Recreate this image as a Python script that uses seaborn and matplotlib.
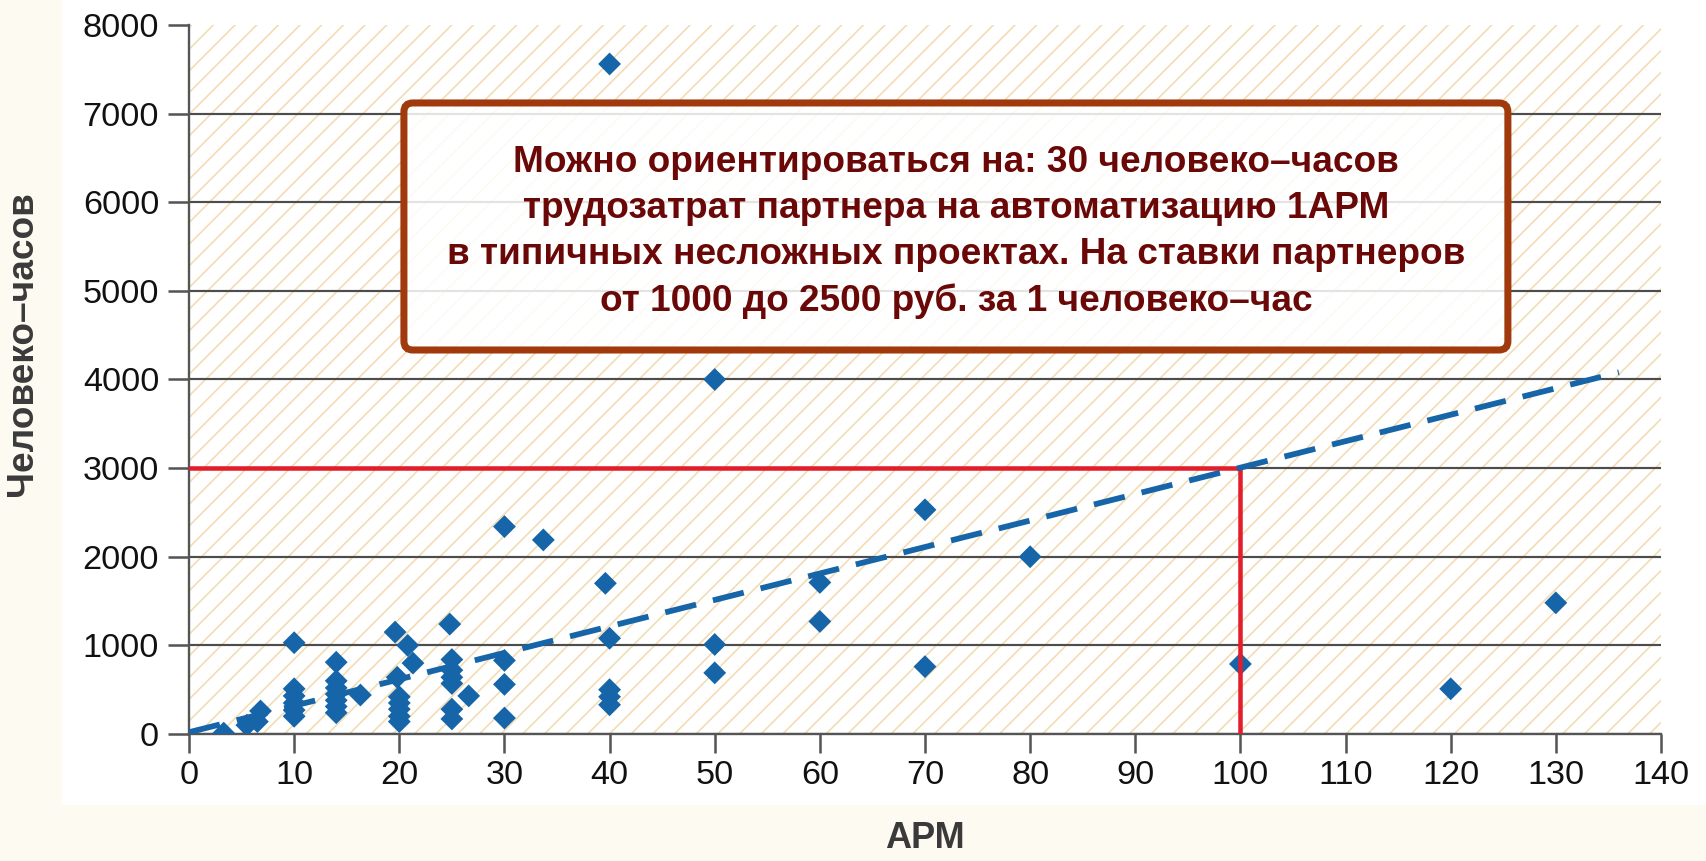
import matplotlib
matplotlib.use("Agg")
import matplotlib.pyplot as plt
from matplotlib.patches import Rectangle, FancyBboxPatch
import pandas as pd
import seaborn as sns

# данные: АРМ (число рабочих мест) и трудозатраты партнера, человеко-часов
apm = [3.3, 5.5, 6.5, 6.8,
       10, 10, 10, 10, 10, 10,
       14, 14, 14, 14, 14, 14, 14,
       16.3, 19.6, 20.8, 21.3, 19.8,
       20, 20, 20, 20, 20,
       24.8, 25, 25, 25, 25, 26.6, 25, 25,
       30, 30, 30, 30, 33.7,
       39.6, 40, 40, 40, 40, 40,
       50, 50, 50, 60, 60, 70, 70, 80, 100, 120, 130]
chasy = [10, 100, 140, 260,
         1030, 510, 430, 350, 270, 200,
         810, 600, 520, 450, 380, 310, 240,
         440, 1150, 1000, 800, 640,
         420, 350, 280, 200, 140,
         1240, 840, 720, 640, 570, 430, 280, 170,
         2340, 830, 560, 180, 2190,
         1700, 1080, 500, 420, 330, 7560,
         4000, 1010, 690, 1710, 1270, 2530, 760, 2000, 790, 510, 1480]

# линия тренда (~30 человеко-часов на 1 АРМ)
trend_x = [0, 136]
trend_y = [20, 4080]

# ориентир: 100 АРМ -> 3000 человеко-часов
target_x = [0, 100, 100]
target_y = [3000, 3000, 0]

x_ticks = list(range(0, 141, 10))
y_ticks = list(range(0, 8001, 1000))

tabela = pd.DataFrame({"АРМ": apm, "Человеко–часов": chasy})

texto = ("Можно ориентироваться на: 30 человеко–часов\n"
         "трудозатрат партнера на автоматизацию 1АРМ\n"
         "в типичных несложных проектах. На ставки партнеров\n"
         "от 1000 до 2500 руб. за 1 человеко–час")

sns.set_theme(style="white")
plt.rcParams["font.family"] = ["Liberation Sans", "DejaVu Sans"]
plt.rcParams["hatch.linewidth"] = 0.9

DPI = 130
fig = plt.figure(figsize=(1706 / DPI, 861 / DPI), dpi=DPI, facecolor="#fdfaf2")
# белая подложка под графиком
fig.patches.append(Rectangle((62 / 1706, 56 / 861), 1, 1, transform=fig.transFigure,
                             facecolor="white", edgecolor="none", zorder=-1))
ax = fig.add_axes([0.1108, 0.1475, 0.8628, 0.8235])
ax.set_facecolor("white")

# штриховка фона
ax.add_patch(Rectangle((0, 0), 1, 1, transform=ax.transAxes, facecolor="white",
                       edgecolor="#f2dcb4", hatch="//", linewidth=0, zorder=0.2))

sns.scatterplot(data=tabela, x="АРМ", y="Человеко–часов", marker="D", s=80,
                color="#1565a8", edgecolor="none", linewidth=0, ax=ax, zorder=3)

ax.plot(target_x, target_y, color="#e31e2a", linewidth=2.5, zorder=4)
ax.plot(trend_x, trend_y, color="#1565a8", linewidth=3.2, dashes=(5.5, 3.0), zorder=4)

ax.set_xlim(0, 140)
ax.set_ylim(0, 8000)
ax.set_xticks(x_ticks)
ax.set_yticks(y_ticks)

ax.set_axisbelow(True)
ax.yaxis.grid(True, color="#4d4d4d", linewidth=1.2)
ax.xaxis.grid(False)
ax.get_ygridlines()[-1].set_visible(False)

for s in ["top", "right"]:
    ax.spines[s].set_visible(False)
for s in ["left", "bottom"]:
    ax.spines[s].set_color("#555555")
    ax.spines[s].set_linewidth(1.3)

ax.tick_params(axis="x", length=10.5, width=1.4, color="#555555", direction="out",
               labelsize=19, labelcolor="#111111", pad=4, bottom=True)
ax.tick_params(axis="y", length=11.5, width=1.4, color="#555555", direction="out",
               labelsize=19, labelcolor="#111111", pad=5, left=True)

ax.set_xlabel("АРМ", fontsize=20, fontweight="bold", color="#3a3a3a")
ax.set_ylabel("Человеко–часов", fontsize=20.5, fontweight="bold", color="#3a3a3a")
ax.xaxis.set_label_coords(0.5, -0.122)
ax.yaxis.set_label_coords(-0.101, 0.55)

# рамка с пояснением
bx0, bx1, by0, by1 = 0.146, 0.896, 0.5416, 0.890
ax.add_patch(FancyBboxPatch((bx0, by0), bx1 - bx0, by1 - by0,
                            boxstyle="round,pad=0,rounding_size=0.006",
                            mutation_aspect=1472 / 709, transform=ax.transAxes,
                            facecolor=(1, 1, 1, 0.85), edgecolor="#a03a0c",
                            linewidth=3.9, zorder=5))
ax.text((bx0 + bx1) / 2, 0.708, texto, transform=ax.transAxes, ha="center", va="center",
        fontsize=20.5, fontweight="bold", color="#6a0808", linespacing=1.4, zorder=6)

fig.savefig("out.png", dpi=DPI, facecolor=fig.get_facecolor())
